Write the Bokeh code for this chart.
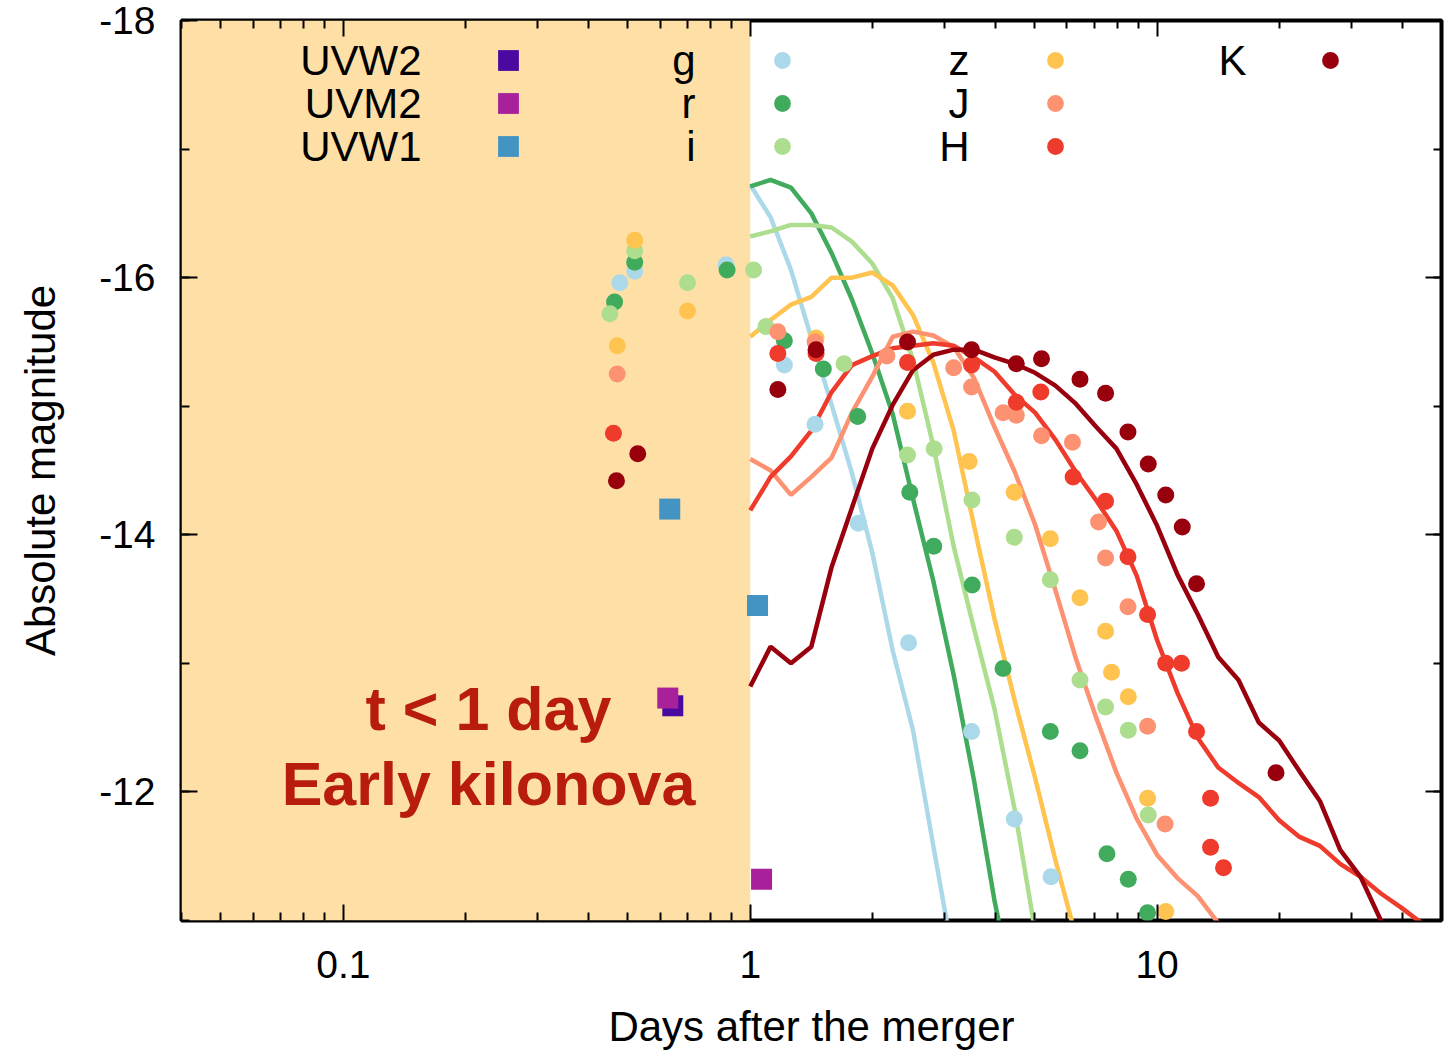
from bokeh.plotting import figure
from bokeh.models import (Range1d, FixedTicker, SingleIntervalTicker, LogAxis, LinearAxis,
                          BoxAnnotation, Label, Legend, LegendItem, BasicTickFormatter,
                          CustomJSTickFormatter, PrintfTickFormatter)
from bokeh.core.properties import value
from bokeh.embed import file_html
from bokeh.resources import INLINE

FONT = "Liberation Sans"

# ---------------- observed photometry (days, absolute mag) ----------------
g_t = [0.478, 0.520, 0.872, 1.213, 1.443, 1.843, 2.450, 3.499, 4.455, 5.486]
g_m = [-15.96, -16.05, -16.10, -15.32, -14.86, -14.09, -13.16, -12.47, -11.79, -11.34]

r_t = [0.464, 0.520, 0.877, 1.213, 1.512, 1.837, 2.467, 2.825, 3.512, 4.181, 5.464, 6.463, 7.529, 8.495, 9.474]
r_m = [-15.81, -16.12, -16.06, -15.51, -15.29, -14.92, -14.33, -13.91, -13.61, -12.96, -12.47, -12.32, -11.52, -11.32, -11.06]

i_t = [0.452, 0.520, 0.701, 1.019, 1.093, 1.700, 2.435, 2.831, 3.507, 4.455, 5.464, 6.463, 7.470, 8.495, 9.511]
i_m = [-15.72, -16.21, -15.96, -16.06, -15.62, -15.33, -14.62, -14.67, -14.27, -13.98, -13.65, -12.87, -12.66, -12.48, -11.82]

z_t = [0.471, 0.520, 0.701, 1.451, 2.435, 3.451, 4.455, 5.464, 6.463, 7.470, 7.727, 8.495, 9.474, 10.50]
z_m = [-15.47, -16.29, -15.74, -15.53, -14.96, -14.57, -14.33, -13.97, -13.51, -13.25, -12.93, -12.74, -11.95, -11.07]

J_t = [0.471, 1.169, 1.443, 2.167, 3.162, 3.499, 4.181, 4.507, 5.198, 6.193, 7.179, 7.470, 8.479, 9.474, 10.46]
J_m = [-15.25, -15.58, -15.50, -15.39, -15.30, -15.15, -14.95, -14.93, -14.77, -14.72, -14.10, -13.82, -13.44, -12.51, -11.75]

H_t = [0.461, 1.169, 1.451, 2.435, 3.499, 4.507, 5.178, 6.217, 7.470, 8.479, 9.474, 10.50, 11.48, 12.50, 13.53, 13.53, 14.56]
H_m = [-14.79, -15.41, -15.41, -15.34, -15.32, -15.03, -15.11, -14.45, -14.26, -13.83, -13.38, -13.00, -13.00, -12.47, -11.95, -11.57, -11.41]

K_t = [0.469, 0.529, 1.169, 1.451, 2.435, 3.499, 4.507, 5.198, 6.463, 7.470, 8.479, 9.511, 10.50, 11.53, 12.50, 19.60]
K_m = [-14.42, -14.63, -15.13, -15.44, -15.50, -15.44, -15.33, -15.37, -15.21, -15.10, -14.80, -14.55, -14.31, -14.06, -13.62, -12.15]

UVW2_t = [0.645]
UVW2_m = [-12.67]
UVM2_t = [0.627, 1.066]
UVM2_m = [-12.73, -11.32]
UVW1_t = [0.634, 1.042]
UVW1_m = [-14.20, -13.45]

# ---------------- model light curves ----------------
model_t = [1.0, 1.122, 1.259, 1.413, 1.585, 1.778, 1.995, 2.239, 2.512, 2.818,
           3.162, 3.548, 3.981, 4.467, 5.012, 5.623, 6.310, 7.079, 7.943, 8.913,
           10.0, 11.22, 12.59, 14.13, 15.85, 17.78, 19.95, 22.39, 25.12, 28.18,
           31.62, 35.48, 39.81, 44.67, 50.12]

g_model = [-16.72, -16.47, -16.06, -15.53, -15.01, -14.48, -13.86, -13.10, -12.48, -11.58, -10.69]
r_model = [-16.71, -16.76, -16.70, -16.50, -16.19, -15.83, -15.41, -14.94, -14.28, -13.64,
           -12.91, -12.09, -11.16, -10.38]
i_model = [-16.32, -16.36, -16.41, -16.41, -16.39, -16.28, -16.11, -15.84, -15.36, -14.69,
           -13.91, -13.27, -12.65, -11.86, -10.92]
z_model = [-15.54, -15.67, -15.79, -15.85, -16.00, -16.00, -16.04, -15.94, -15.71, -15.34,
           -14.81, -14.07, -13.35, -12.71, -12.11, -11.47, -10.88]
J_model = [-14.59, -14.50, -14.31, -14.45, -14.60, -14.95, -15.23, -15.54, -15.58, -15.55,
           -15.46, -15.22, -14.84, -14.49, -14.08, -13.57, -13.04, -12.58, -12.15, -11.79,
           -11.51, -11.33, -11.19, -10.98, -10.81]
H_model = [-14.19, -14.45, -14.61, -14.81, -15.11, -15.32, -15.39, -15.45, -15.47, -15.49,
           -15.47, -15.38, -15.27, -15.09, -14.95, -14.74, -14.49, -14.27, -14.03, -13.68,
           -13.18, -12.77, -12.42, -12.19, -12.07, -11.96, -11.78, -11.65, -11.58, -11.44,
           -11.34, -11.21, -11.10, -10.98, -10.88]
K_model = [-12.82, -13.13, -13.00, -13.13, -13.75, -14.21, -14.67, -15.01, -15.28, -15.40,
           -15.44, -15.44, -15.38, -15.33, -15.26, -15.16, -15.02, -14.84, -14.67, -14.39,
           -14.07, -13.69, -13.38, -13.05, -12.87, -12.54, -12.40, -12.16, -11.93, -11.55,
           -11.34, -11.00, -10.65]

x_major = [0.1, 1, 10]
x_minor = [0.04, 0.05, 0.06, 0.07, 0.08, 0.09, 0.2, 0.3, 0.4, 0.5, 0.6, 0.7, 0.8, 0.9,
           2, 3, 4, 5, 6, 7, 8, 9, 20, 30, 40, 50]

COL = {"g": "#abd9e9", "r": "#41ab5d", "i": "#addd8e", "z": "#fec44f",
       "J": "#fc9272", "H": "#ef3b2c", "K": "#99000d",
       "UVW2": "#4a0aa0", "UVM2": "#a8209a", "UVW1": "#4393c3"}

p = figure(width=1447, height=1053, x_axis_type="log",
           x_range=Range1d(0.04, 50), y_range=Range1d(-11, -18),
           output_backend="svg", toolbar_location=None,
           min_border_left=181, min_border_right=6, min_border_top=20, min_border_bottom=133)
p.grid.visible = False
p.outline_line_color = "black"
p.outline_line_width = 4

# shaded early region
p.add_layout(BoxAnnotation(right=1.0, fill_color="#fee0a6", fill_alpha=1.0,
                           line_color=None, level="underlay"))

def style_axis(ax, ticker, labels=True):
    ax.ticker = ticker
    ax.axis_line_color = None
    ax.major_tick_in = 16
    ax.major_tick_out = 0
    ax.minor_tick_in = 8
    ax.minor_tick_out = 0
    ax.major_tick_line_width = 2
    ax.minor_tick_line_width = 2
    ax.major_tick_line_color = "black"
    ax.minor_tick_line_color = "black"
    ax.major_label_text_font = FONT
    ax.major_label_text_font_size = "39px"
    ax.major_label_text_color = "black"
    ax.axis_label_text_font = FONT
    ax.axis_label_text_font_size = "42px"
    ax.axis_label_text_font_style = "normal"
    ax.axis_label_text_color = "black"
    if not labels:
        ax.formatter = CustomJSTickFormatter(code="return ''")
        ax.major_label_standoff = 0

xt = FixedTicker(ticks=x_major, minor_ticks=x_minor)
yt = SingleIntervalTicker(interval=2, num_minor_ticks=2)

style_axis(p.xaxis[0], xt)
p.xaxis[0].formatter = BasicTickFormatter(use_scientific=False)
p.xaxis[0].major_label_standoff = 30
p.xaxis[0].axis_label = "Days after the merger"
p.xaxis[0].axis_label_standoff = 22

style_axis(p.yaxis[0], yt)
p.yaxis[0].formatter = PrintfTickFormatter(format="%d")
p.yaxis[0].major_label_standoff = 26
p.yaxis[0].axis_label = "Absolute magnitude"
p.yaxis[0].axis_label_standoff = 32

top_ax = LogAxis()
style_axis(top_ax, FixedTicker(ticks=x_major, minor_ticks=x_minor), labels=False)
p.add_layout(top_ax, "above")
right_ax = LinearAxis()
style_axis(right_ax, SingleIntervalTicker(interval=2, num_minor_ticks=2), labels=False)
p.add_layout(right_ax, "right")

# model lines
for band, ym in [("g", g_model), ("r", r_model), ("i", i_model), ("z", z_model),
                 ("J", J_model), ("H", H_model), ("K", K_model)]:
    p.line(model_t[:len(ym)], ym, line_color=COL[band], line_width=4.5)

# data points
renders = {}
renders["UVW2"] = p.scatter(UVW2_t, UVW2_m, marker="square", size=21, fill_color=COL["UVW2"], line_color=None)
renders["UVM2"] = p.scatter(UVM2_t, UVM2_m, marker="square", size=21, fill_color=COL["UVM2"], line_color=None)
renders["UVW1"] = p.scatter(UVW1_t, UVW1_m, marker="square", size=21, fill_color=COL["UVW1"], line_color=None)
for band, tt, mm in [("g", g_t, g_m), ("r", r_t, r_m), ("i", i_t, i_m), ("z", z_t, z_m),
                     ("J", J_t, J_m), ("H", H_t, H_m), ("K", K_t, K_m)]:
    renders[band] = p.scatter(tt, mm, marker="circle", size=17, fill_color=COL[band], line_color=None)

# key (label to the left of its symbol)
rows_y = [860, 817, 774]
columns = [(240, 327, 52, ["UVW2", "UVM2", "UVW1"]),
           (514, 601, 42, ["g", "r", "i"]),
           (788, 874, 42, ["z", "J", "H"]),
           (1065, 1149, 42, ["K"])]
for text_x, glyph_x, gsize, names in columns:
    for name, yy in zip(names, rows_y):
        p.add_layout(Label(x=text_x, y=yy, x_units="screen", y_units="screen", text=name,
                           text_align="right", text_baseline="middle", text_font=FONT,
                           text_font_size="42px", text_color="black"))
        leg = Legend(items=[LegendItem(label=value(" "), renderers=[renders[name]])],
                     location=(glyph_x - gsize / 2, yy - gsize / 2),
                     glyph_width=gsize, glyph_height=gsize, padding=0, margin=0,
                     spacing=0, label_standoff=0, label_width=0, label_height=0,
                     label_text_font_size="1px", border_line_color=None,
                     background_fill_alpha=0, click_policy="none")
        p.add_layout(leg)

for txt, yy in [("t < 1 day", 212), ("Early kilonova", 137)]:
    p.add_layout(Label(x=307, y=yy, x_units="screen", y_units="screen", text=txt,
                       text_align="center", text_baseline="middle", text_font=FONT,
                       text_font_size="61px", text_font_style="bold", text_color="#b71c0c"))

open("out.html", "w").write(file_html(p, INLINE))
